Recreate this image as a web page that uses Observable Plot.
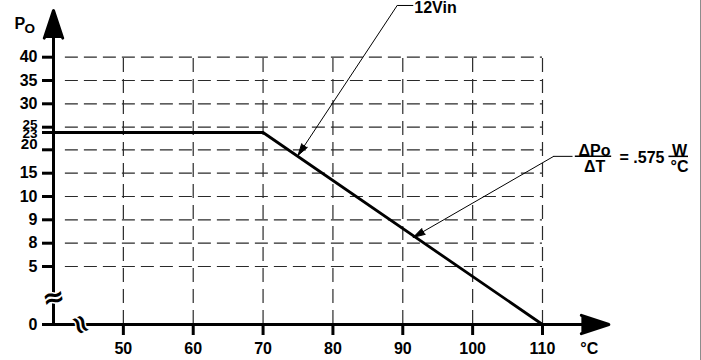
<!DOCTYPE html>
<html><head><meta charset="utf-8">
<script src="https://cdn.jsdelivr.net/npm/d3@7"></script>
<script src="https://cdn.jsdelivr.net/npm/@observablehq/plot@0.6"></script>
<style>
body{margin:0;background:#fff;}
#wrap{position:relative;width:701px;height:360px;overflow:hidden;background:#fff;}
#edge{position:absolute;left:700px;top:0;width:1px;height:360px;background:#8c8c8c;z-index:2;}
svg{display:block;}
</style></head><body><div id="wrap"><div id="edge"></div></div>
<script>
// ---- data ----
const temps = [40, 70, 110];          // ambient temperature (°C)
const power = [23, 23, 0];            // output power P_O (W)
const xTicks = [50, 60, 70, 80, 90, 100, 110];
const yTicks = [0, 5, 8, 9, 10, 15, 20, 23, 25, 30, 35, 40];
const yGrid = [5, 8, 9, 10, 15, 20, 25, 30, 35, 40];
const yLabelsPlain = [0, 5, 8, 9, 10, 15, 30, 35, 40];
const xUnit = "°C";
const yName = "P";
const ySub = "O";
// annotations (data coordinates)
const noteText = ["12Vin", "ΔPo/ΔT"];
const noteTipT = [75.0, 91.5];
const noteTipP = [18.8, 8.25];
const noteElbowT = [89.2, 111.6];
const noteElbowP = [51.1, 18.6];
const noteEndT = [91.5, 114.3];
const slopeValue = ".575";
const slopeUnitTop = "W";
const slopeUnitBottom = "°C";
const fracBarT1 = [114.7, 128.1];
const fracBarT2 = [119.9, 130.9];

const font = "'Liberation Sans', Arial, Helvetica, sans-serif";
const rows = temps.map((t, i) => ({t, p: power[i]}));
const notes = noteText.map((s, i) => ({s, tipT: noteTipT[i], tipP: noteTipP[i], eT: noteElbowT[i], eP: noteElbowP[i], endT: noteEndT[i]}));
const slope = notes[1];
const bars = fracBarT1.map((a, i) => ({a, b: fracBarT2[i], p: slope.eP}));
const TXT = {fontSize: 16, fontWeight: "bold"};

const plot = Plot.plot({
  width: 701, height: 360,
  marginLeft: 53, marginRight: 159, marginTop: 57, marginBottom: 36,
  style: {fontFamily: font, fontWeight: "bold", color: "black", background: "white", overflow: "visible"},
  x: {domain: [40, 110], axis: null},
  y: {type: "linear", domain: yTicks,
      range: [324, 266, 242.7, 219.3, 196, 172.7, 149.3, 132, 126.7, 103.3, 80, 56.7], axis: null},
  marks: [
    // grid
    Plot.ruleY(yGrid, {x1: 41.7, x2: 110, stroke: "#2a2a2a", strokeWidth: 1.2, strokeDasharray: "13,6"}),
    Plot.ruleX(xTicks, {y1: 0, y2: 40, stroke: "#2a2a2a", strokeWidth: 1.2, strokeDasharray: "14,7"}),
    // derating curve
    Plot.line(rows, {x: "t", y: "p", stroke: "black", strokeWidth: 2.8}),
    // axes with arrowheads
    Plot.arrow([0], {x1: 40, x2: 40, y1: 0, y2: 50, stroke: "black", fill: "black", strokeWidth: 3, headLength: 14.5, headAngle: 37}),
    Plot.arrow([0], {x1: 40, x2: 119.5, y1: 0, y2: 0, stroke: "black", fill: "black", strokeWidth: 3, headLength: 14.5, headAngle: 37}),
    Plot.axisY(yTicks, {tickSize: 11, strokeWidth: 3, fill: "none", label: null}),
    Plot.axisX(xTicks, {tickSize: 11, tickPadding: 7, strokeWidth: 3, fontSize: 16, fontWeight: "bold", label: null}),
    // y tick labels
    Plot.text(yLabelsPlain, {x: 40, y: d => d, dx: -16, textAnchor: "end", lineAnchor: "middle", ...TXT}),
    Plot.text([25], {x: 40, y: d => d, dx: -16, dy: -2.5, textAnchor: "end", lineAnchor: "middle", fontSize: 13.5, fontWeight: "bold"}),
    Plot.text([23], {x: 40, y: d => d, dx: -16, dy: 1.5, textAnchor: "end", lineAnchor: "middle", fontSize: 13.5, fontWeight: "bold"}),
    Plot.text([20], {x: 40, y: d => d, dx: -16, dy: -5.5, textAnchor: "end", lineAnchor: "middle", fontSize: 15, fontWeight: "bold"}),
    // axis names
    Plot.text([xUnit], {x: 116.7, y: 0, dy: 18, text: d => d, lineAnchor: "top", ...TXT}),
    Plot.text([yName], {frameAnchor: "top-left", dx: -39, dy: -40, text: d => d, textAnchor: "start", lineAnchor: "top", fontSize: 16, fontWeight: "bold"}),
    Plot.text([ySub], {frameAnchor: "top-left", dx: -29, dy: -34, text: d => d, textAnchor: "start", lineAnchor: "top", fontSize: 13.5, fontWeight: "bold"}),
    // axis break marks
    Plot.text(["≈"], {x: 40, y: 2.3, text: d => d, fontFamily: "DejaVu Sans", fontSize: 27, fontWeight: "bold", lineAnchor: "middle", rotate: -12, stroke: "white", strokeWidth: 3, paintOrder: "stroke", fill: "black"}),
    Plot.text(["≈"], {x: 43.9, y: 0, text: d => d, fontFamily: "DejaVu Sans", fontSize: 26, fontWeight: "bold", lineAnchor: "middle", rotate: 65, stroke: "white", strokeWidth: 3, paintOrder: "stroke", fill: "black"}),
    // annotation leaders
    Plot.link(notes, {x1: "eT", y1: "eP", x2: "endT", y2: "eP", stroke: "black", strokeWidth: 1}),
    Plot.arrow(notes, {x1: "eT", y1: "eP", x2: "tipT", y2: "tipP", stroke: "black", fill: "black", strokeWidth: 1, headLength: 18.5, headAngle: 32}),
    Plot.text([notes[0]], {x: "endT", y: "eP", text: "s", dx: 1, dy: 2, textAnchor: "start", lineAnchor: "middle", ...TXT}),
    // slope fraction
    Plot.text(["ΔPo"], {x: slope.endT, y: slope.eP, text: d => d, dx: 22, dy: -12, lineAnchor: "top", ...TXT}),
    Plot.text(["ΔT"], {x: slope.endT, y: slope.eP, text: d => d, dx: 22, dy: 4, lineAnchor: "top", ...TXT}),
    Plot.ruleY(bars, {y: "p", x1: "a", x2: "b", stroke: "black", strokeWidth: 1.5}),
    Plot.text(["= " + slopeValue], {x: slope.endT, y: slope.eP, text: d => d, dx: 47, dy: 2, textAnchor: "start", lineAnchor: "middle", ...TXT}),
    Plot.text([slopeUnitTop], {x: slope.endT, y: slope.eP, text: d => d, dx: 107, dy: -12, lineAnchor: "top", ...TXT}),
    Plot.text([slopeUnitBottom], {x: slope.endT, y: slope.eP, text: d => d, dx: 107, dy: 4, lineAnchor: "top", ...TXT})
  ]
});
document.getElementById("wrap").appendChild(plot);
</script></body></html>
